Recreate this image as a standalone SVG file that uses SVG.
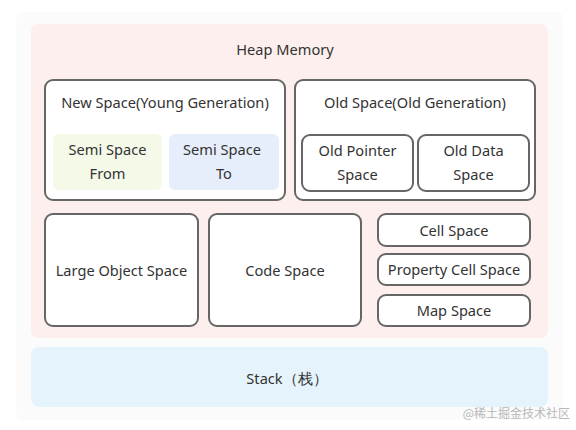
<svg xmlns="http://www.w3.org/2000/svg" width="576" height="430" viewBox="0 0 576 430">
<style>
.box{fill:#ffffff;stroke:#666666;stroke-width:2}
.t{font-family:"Noto Sans","Open Sans",sans-serif;font-size:14.6px;fill:#333333;text-anchor:middle;dominant-baseline:central}
</style>
<rect x="0" y="0" width="576" height="430" fill="#ffffff"/>
<rect x="16" y="12" width="547" height="408" rx="6" fill="#fbfbfb"/>
<g id="heap">
<rect x="31" y="24" width="517" height="314" rx="8" fill="#fdefed"/>
<text class="t" x="285" y="49">Heap Memory</text>
</g>
<g id="new-space">
<rect class="box" x="45" y="80" width="240" height="120" rx="8"/>
<text class="t" x="165" y="102">New Space(Young Generation)</text>
</g>
<g id="semi-from">
<rect x="53" y="134" width="109" height="56" rx="6" fill="#f4f9e8"/>
<text class="t" x="107.5" y="149">Semi Space</text>
<text class="t" x="107.5" y="173">From</text>
</g>
<g id="semi-to">
<rect x="169" y="134" width="110" height="56" rx="6" fill="#e7eefb"/>
<text class="t" x="222" y="149">Semi Space</text>
<text class="t" x="224" y="173">To</text>
</g>
<g id="old-space">
<rect class="box" x="295" y="80" width="240" height="120" rx="8"/>
<text class="t" x="415" y="102">Old Space(Old Generation)</text>
</g>
<g id="old-pointer">
<rect class="box" x="302" y="135" width="111" height="56" rx="8"/>
<text class="t" x="357.5" y="150">Old Pointer</text>
<text class="t" x="357.5" y="174">Space</text>
</g>
<g id="old-data">
<rect class="box" x="418" y="135" width="111" height="56" rx="8"/>
<text class="t" x="473.5" y="150">Old Data</text>
<text class="t" x="473.5" y="174">Space</text>
</g>
<g id="large-object">
<rect class="box" x="45" y="214" width="153" height="112" rx="8"/>
<text class="t" x="121.5" y="270">Large Object Space</text>
</g>
<g id="code-space">
<rect class="box" x="209" y="214" width="152" height="112" rx="8"/>
<text class="t" x="285" y="270">Code Space</text>
</g>
<g id="cell-space">
<rect class="box" x="378" y="214" width="152" height="32" rx="8"/>
<text class="t" x="454" y="230">Cell Space</text>
</g>
<g id="property-cell-space">
<rect class="box" x="378" y="254" width="152" height="31" rx="8"/>
<text class="t" x="454" y="269">Property Cell Space</text>
</g>
<g id="map-space">
<rect class="box" x="378" y="295" width="152" height="31" rx="8"/>
<text class="t" x="454" y="310">Map Space</text>
</g>
<g id="stack">
<rect x="31" y="347" width="517" height="60" rx="8" fill="#e5f3fc"/>
<text class="t" x="287" y="378" font-family="'Noto Sans','Noto Sans CJK SC',sans-serif">Stack（栈）</text>
</g>
<g id="connectors"></g>
<text x="570" y="418" font-family="'Noto Sans CJK SC',sans-serif" font-size="12" fill="#b8b8b8" text-anchor="end">@稀土掘金技术社区</text>
</svg>
